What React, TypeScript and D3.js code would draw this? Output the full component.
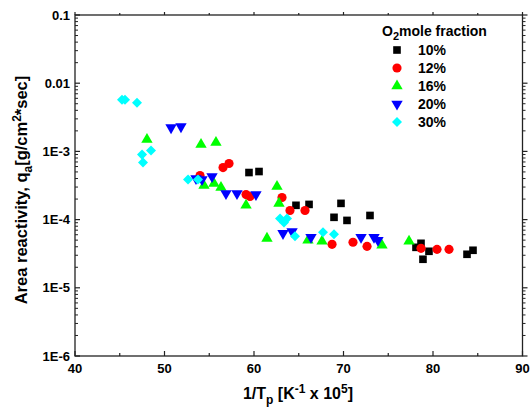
import React from "react";
import * as d3 from "d3";

// ---- data ----
const seriesNames = ["10%", "12%", "16%", "20%", "30%"];
const seriesColors = ["#000000", "#ff0000", "#00ff00", "#0000ff", "#00ffff"];

const x10 = [59.44, 60.56, 64.69, 66.15, 69.72, 68.94, 70.39, 72.96, 78.66, 78.1, 79.55, 78.88, 83.8, 84.47];
const y10 = [4.9e-4, 5.07e-4, 1.62e-4, 1.67e-4, 1.73e-4, 1.08e-4, 9.73e-5, 1.15e-4, 4.49e-5, 3.92e-5, 3.43e-5, 2.62e-5, 3.1e-5, 3.55e-5];

const x12 = [53.97, 56.54, 57.21, 59.11, 59.55, 63.13, 64.02, 65.7, 68.72, 71.06, 72.63, 78.66, 80.45, 81.79];
const y12 = [4.43e-4, 5.79e-4, 6.64e-4, 2.33e-4, 2.18e-4, 2.11e-4, 1.36e-4, 1.36e-4, 4.34e-5, 4.65e-5, 4.05e-5, 3.79e-5, 3.66e-5, 3.66e-5];

const x16 = [48.04, 54.08, 55.75, 54.41, 55.53, 56.31, 59.11, 61.45, 62.57, 62.79, 66.03, 67.6, 74.3, 77.32];
const y16 = [1.49e-3, 1.26e-3, 1.35e-3, 3.16e-4, 3.38e-4, 2.96e-4, 1.62e-4, 5.31e-5, 3.05e-4, 1.73e-4, 4.97e-5, 4.8e-5, 4.2e-5, 4.8e-5];

const x20 = [50.73, 51.84, 53.52, 54.19, 55.31, 56.87, 58.1, 60.22, 63.24, 64.25, 66.37, 71.96, 73.41, 73.85];
const y20 = [2.23e-3, 2.31e-3, 4.0e-4, 3.87e-4, 4.28e-4, 2.42e-4, 2.42e-4, 2.33e-4, 6.28e-5, 6.71e-5, 5.5e-5, 5.5e-5, 5.5e-5, 4.97e-5];

const x30 = [45.25, 45.59, 46.93, 47.49, 48.49, 47.6, 52.63, 53.74, 62.91, 63.69, 63.35, 64.58, 67.71, 68.94];
const y30 = [5.71e-3, 5.71e-3, 5.16e-3, 8.97e-4, 1.03e-3, 6.86e-4, 3.87e-4, 3.87e-4, 1.04e-4, 1.04e-4, 9.1e-5, 5.68e-5, 6.5e-5, 6.08e-5];

const xTicks = [40, 50, 60, 70, 80, 90];
const xMinor = [45, 55, 65, 75, 85];
const yTicks = [1e-6, 1e-5, 1e-4, 1e-3, 1e-2, 1e-1];
const yTickLabels = ["1E-6", "1E-5", "1E-4", "1E-3", "0.01", "0.1"];

const allX = [x10, x12, x16, x20, x30];
const allY = [y10, y12, y16, y20, y30];

// ---- layout ----
const W = 531, H = 410;
const L = 75, R = 522.5, T = 15, B = 356;

const xScale = d3.scaleLinear().domain([40, 90]).range([L, R]);
const yScale = d3.scaleLog().domain([1e-6, 1e-1]).range([B, T]);

const symbolTypes = [d3.symbolSquare, d3.symbolCircle, d3.symbolTriangle, d3.symbolTriangle, d3.symbolDiamond2];
const symbolSizes = [58, 66, 56, 56, 64];
const symbolRot = [0, 0, 0, 180, 0];

function sym(i: number) {
  return d3.symbol().type(symbolTypes[i]).size(symbolSizes[i])() as string;
}

const yMinor: number[] = [];
for (let e = -6; e < -1; e++) {
  for (let m = 2; m <= 9; m++) yMinor.push(m * Math.pow(10, e));
}

const font = "'Liberation Sans', Arial, sans-serif";

export default function App() {
  const axisColor = "#222";
  return (
    <svg width={W} height={H} style={{ position: "absolute", left: 0, top: 0, background: "#fff" }} fontFamily={font}>
      <rect x={0} y={0} width={W} height={H} fill="#fff" />
      {/* frame */}
      <rect x={L} y={T} width={R - L} height={B - T} fill="none" stroke={axisColor} strokeWidth={1.3} />
      {xTicks.map((t) => (
        <g key={"xb" + t}>
          <line x1={xScale(t)} x2={xScale(t)} y1={B} y2={B - 5} stroke={axisColor} strokeWidth={1.2} />
          <line x1={xScale(t)} x2={xScale(t)} y1={T} y2={T - 3} stroke={axisColor} strokeWidth={1.2} />
          <text x={xScale(t)} y={373} textAnchor="middle" fontSize={13} fontWeight="bold">{t}</text>
        </g>
      ))}
      {xMinor.map((t) => (
        <g key={"xm" + t}>
          <line x1={xScale(t)} x2={xScale(t)} y1={B} y2={B - 3} stroke={axisColor} strokeWidth={1.2} />
          <line x1={xScale(t)} x2={xScale(t)} y1={T} y2={T - 2} stroke={axisColor} strokeWidth={1.2} />
        </g>
      ))}
      {yTicks.map((t, i) => (
        <g key={"yt" + i}>
          <line x1={L} x2={L + 5} y1={yScale(t)} y2={yScale(t)} stroke={axisColor} strokeWidth={1.2} />
          <line x1={R} x2={R + 5} y1={yScale(t)} y2={yScale(t)} stroke={axisColor} strokeWidth={1.2} />
          <text x={L - 5} y={yScale(t) + 4.5} textAnchor="end" fontSize={13} fontWeight="bold">{yTickLabels[i]}</text>
        </g>
      ))}
      {yMinor.map((t, i) => (
        <g key={"ym" + i}>
          <line x1={L} x2={L + 3} y1={yScale(t)} y2={yScale(t)} stroke={axisColor} strokeWidth={1} />
          <line x1={R} x2={R + 3} y1={yScale(t)} y2={yScale(t)} stroke={axisColor} strokeWidth={1} />
        </g>
      ))}
      {/* axis titles */}
      <text x={298} y={399} textAnchor="middle" fontSize={16} fontWeight="bold">
        1/T<tspan fontSize={12} dy={5}>p</tspan>
        <tspan dy={-5}> [K</tspan>
        <tspan fontSize={12} dy={-6}>-1</tspan>
        <tspan dy={6}> x 10</tspan>
        <tspan fontSize={12} dy={-6}>5</tspan>
        <tspan dy={6}>]</tspan>
      </text>
      <text transform={`translate(27,190) rotate(-90)`} textAnchor="middle" fontSize={16.5} fontWeight="bold">
        Area reactivity, q<tspan fontSize={12} dy={5}>a</tspan>
        <tspan dy={-5}>[g/cm</tspan>
        <tspan fontSize={12} dy={-6}>2</tspan>
        <tspan dy={6}>*sec]</tspan>
      </text>
      {/* data */}
      {allX.map((xs, si) => (
        <g key={"s" + si}>
          {xs.map((xv, j) => (
            <path
              key={j}
              d={sym(si)}
              transform={`translate(${xScale(xv)},${yScale(allY[si][j])}) rotate(${symbolRot[si]})`}
              fill={seriesColors[si]}
            />
          ))}
        </g>
      ))}
      {/* legend */}
      <text x={382} y={36} fontSize={14} fontWeight="bold">
        O<tspan fontSize={11} dy={4}>2</tspan>
        <tspan dy={-4}>mole fraction</tspan>
      </text>
      {seriesNames.map((n, i) => {
        const ly = 50 + i * 18;
        return (
          <g key={"lg" + i}>
            <path d={sym(i)} transform={`translate(397,${ly}) rotate(${symbolRot[i]})`} fill={seriesColors[i]} />
            <text x={418} y={ly + 5} fontSize={14} fontWeight="bold">{n}</text>
          </g>
        );
      })}
    </svg>
  );
}
